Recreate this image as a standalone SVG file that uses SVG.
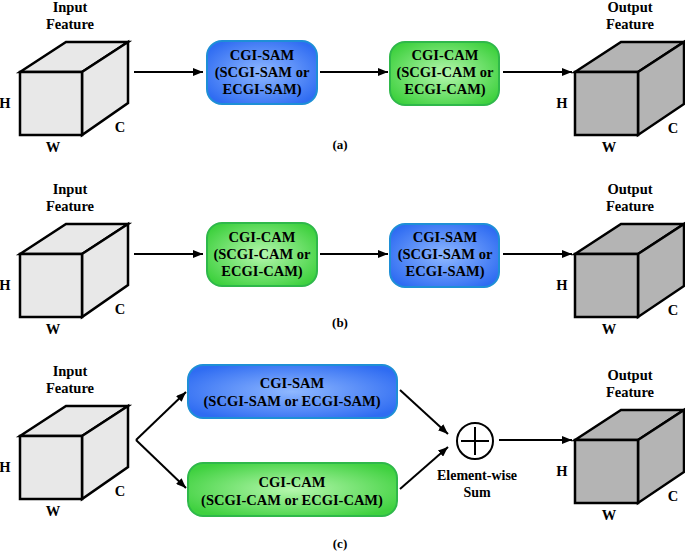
<svg xmlns="http://www.w3.org/2000/svg" width="685" height="552" viewBox="0 0 685 552">
<defs>
<radialGradient id="gBlue" cx="0.5" cy="0.5" r="0.6">
<stop offset="0" stop-color="#8fb8ff"/>
<stop offset="1" stop-color="#2f6cf2"/>
</radialGradient>
<radialGradient id="gGreen" cx="0.5" cy="0.5" r="0.6">
<stop offset="0" stop-color="#b6f7ae"/>
<stop offset="1" stop-color="#3fd13f"/>
</radialGradient>
<marker id="ah" viewBox="0 0 10 8" refX="10" refY="4" markerWidth="10" markerHeight="8" markerUnits="userSpaceOnUse" orient="auto">
<path d="M0,0 L10,4 L0,8 z" fill="#000"/>
</marker>
<style>
text{font-family:"Liberation Serif","Times New Roman",serif;font-weight:bold;fill:#000;text-anchor:middle;font-size:14.5px}
.cube{stroke:#000;stroke-width:2.5;stroke-linejoin:miter}
.in{fill:#e8e8e8}
.out{fill:#b4b4b4}
.blue{fill:url(#gBlue);stroke:#1e8fd6;stroke-width:2}
.green{fill:url(#gGreen);stroke:#2fb84a;stroke-width:2}
.lbl{font-size:13px}
.con line,.con path{stroke:#000;stroke-width:2;fill:none;marker-end:url(#ah)}
</style>
</defs>

<!-- Panel (a) -->
<g id="a-input">
<text x="70" y="12">Input</text><text x="70" y="29">Feature</text>
<polygon class="cube in" points="20,72 66,42 128,42 82,72"/>
<polygon class="cube in" points="82,72 128,42 128,103 82,135"/>
<rect class="cube in" x="20" y="72" width="62" height="63"/>
<text x="5" y="108">H</text><text x="53" y="152">W</text><text x="120" y="132">C</text>
</g>
<g id="a-sam">
<rect class="blue" x="207" y="41" width="110" height="63" rx="15"/>
<text x="262" y="60">CGI-SAM</text><text x="262" y="77">(SCGI-SAM or</text><text x="262" y="94">ECGI-SAM)</text>
</g>
<g id="a-cam">
<rect class="green" x="390" y="42" width="109" height="63" rx="15"/>
<text x="445" y="60">CGI-CAM</text><text x="445" y="77">(SCGI-CAM or</text><text x="445" y="94">ECGI-CAM)</text>
</g>
<g id="a-output">
<text x="630" y="12">Output</text><text x="630" y="29">Feature</text>
<polygon class="cube out" points="575,72 621,42 684,42 638,72"/>
<polygon class="cube out" points="638,72 684,42 684,104 638,135"/>
<rect class="cube out" x="575" y="72" width="63" height="63"/>
<text x="562" y="108">H</text><text x="609" y="152">W</text><text x="673" y="133">C</text>
</g>
<text class="lbl" x="340" y="149">(a)</text>

<!-- Panel (b) -->
<g id="b-input">
<text x="70" y="194">Input</text><text x="70" y="211">Feature</text>
<polygon class="cube in" points="20,254 66,224 128,224 82,254"/>
<polygon class="cube in" points="82,254 128,224 128,285 82,317"/>
<rect class="cube in" x="20" y="254" width="62" height="63"/>
<text x="5" y="290">H</text><text x="53" y="334">W</text><text x="120" y="314">C</text>
</g>
<g id="b-cam">
<rect class="green" x="207" y="223" width="110" height="63" rx="15"/>
<text x="262" y="242">CGI-CAM</text><text x="262" y="259">(SCGI-CAM or</text><text x="262" y="276">ECGI-CAM)</text>
</g>
<g id="b-sam">
<rect class="blue" x="390" y="224" width="109" height="63" rx="15"/>
<text x="445" y="242">CGI-SAM</text><text x="445" y="259">(SCGI-SAM or</text><text x="445" y="276">ECGI-SAM)</text>
</g>
<g id="b-output">
<text x="630" y="194">Output</text><text x="630" y="211">Feature</text>
<polygon class="cube out" points="575,254 621,224 684,224 638,254"/>
<polygon class="cube out" points="638,254 684,224 684,286 638,317"/>
<rect class="cube out" x="575" y="254" width="63" height="63"/>
<text x="562" y="290">H</text><text x="609" y="334">W</text><text x="673" y="315">C</text>
</g>
<text class="lbl" x="340" y="327">(b)</text>

<!-- Panel (c) -->
<g id="c-input">
<text x="70" y="376">Input</text><text x="70" y="393">Feature</text>
<polygon class="cube in" points="20,436 66,406 128,406 82,436"/>
<polygon class="cube in" points="82,436 128,406 128,467 82,499"/>
<rect class="cube in" x="20" y="436" width="62" height="63"/>
<text x="5" y="472">H</text><text x="53" y="516">W</text><text x="120" y="496">C</text>
</g>
<g id="c-sam">
<rect class="blue" x="188" y="365" width="209" height="53" rx="15"/>
<text x="292" y="388">CGI-SAM</text><text x="292" y="406">(SCGI-SAM or ECGI-SAM)</text>
</g>
<g id="c-cam">
<rect class="green" x="188" y="463" width="209" height="53" rx="15"/>
<text x="292" y="487">CGI-CAM</text><text x="292" y="505">(SCGI-CAM or ECGI-CAM)</text>
</g>
<g id="c-sum">
<circle cx="475" cy="441" r="18" fill="#fff" stroke="#000" stroke-width="2"/>
<line x1="461" y1="441" x2="489" y2="441" stroke="#000" stroke-width="2"/>
<line x1="475" y1="427" x2="475" y2="455" stroke="#000" stroke-width="2"/>
<text x="477" y="480" style="font-size:14px">Element-wise</text><text x="477" y="497" style="font-size:14px">Sum</text>
</g>
<g id="c-output">
<text x="630" y="380">Output</text><text x="630" y="397">Feature</text>
<polygon class="cube out" points="575,440 621,410 684,410 638,440"/>
<polygon class="cube out" points="638,440 684,410 684,472 638,503"/>
<rect class="cube out" x="575" y="440" width="63" height="63"/>
<text x="562" y="476">H</text><text x="609" y="520">W</text><text x="673" y="501">C</text>
</g>
<text class="lbl" x="340" y="548">(c)</text>

<g id="connectors" class="con">
<line x1="134" y1="72" x2="203" y2="72"/>
<line x1="320" y1="72" x2="388" y2="72"/>
<line x1="503" y1="72" x2="572" y2="72"/>
<line x1="134" y1="254" x2="203" y2="254"/>
<line x1="320" y1="254" x2="388" y2="254"/>
<line x1="503" y1="254" x2="572" y2="254"/>
<line x1="136" y1="440" x2="186" y2="392"/>
<line x1="136" y1="440" x2="186" y2="488"/>
<line x1="400" y1="390" x2="448" y2="434"/>
<line x1="400" y1="489" x2="448" y2="447"/>
<line x1="499" y1="440" x2="572" y2="440"/>
</g>
</svg>
